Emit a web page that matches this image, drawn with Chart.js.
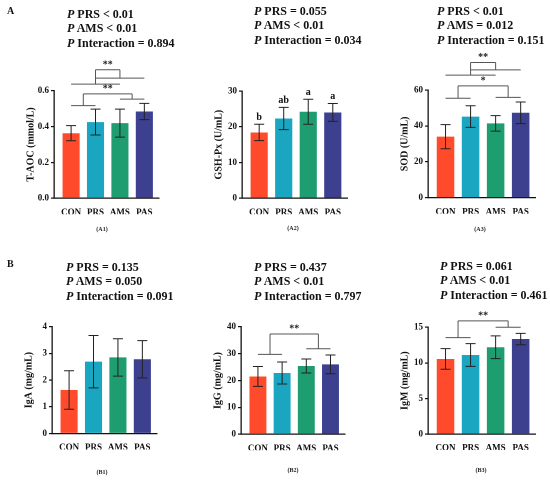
<!DOCTYPE html>
<html>
<head>
<meta charset="utf-8">
<script src="https://cdn.jsdelivr.net/npm/chart.js@4.4.1/dist/chart.umd.min.js"></script>
<style>
  body { margin: 0; width: 550px; height: 480px; background: #fff; position: relative; overflow: hidden; }
  canvas { position: absolute; }
  .pv { position: absolute; font: bold 12px "Liberation Serif", serif; line-height: 14.4px; color: #111; white-space: nowrap; }
  .pv i { font-style: italic; }
  .tag { position: absolute; font: bold 10px "Liberation Serif", serif; color: #111; }
  .cap { position: absolute; font: bold 6px "Liberation Serif", serif; color: #222; transform: translateX(-50%); }
</style>
</head>
<body>
<script>
const categories = ['CON', 'PRS', 'AMS', 'PAS'];
const barColors = ['#FF4B2B', '#1AA5C0', '#1E9E70', '#3D3F8F'];

// A1 T-AOC
const tAocMean = [0.363, 0.425, 0.419, 0.484];
const tAocSd = [0.042, 0.072, 0.078, 0.045];
const tAocBrackets = [
  { groups: [[1, 2], [3, 4]], levels: [0.517, 0.553], top: 0.582, mark: '**' },
  { groups: [[1, 3], [2, 4]], levels: [0.637, 0.670], top: 0.717, mark: '**' }
];
// A2 GSH-Px
const gshMean = [18.4, 22.3, 24.2, 24.0];
const gshSd = [2.3, 3.1, 3.5, 2.5];
const gshLetters = ['b', 'ab', 'a', 'a'];
// A3 SOD
const sodMean = [34.0, 45.2, 41.4, 47.3];
const sodSd = [6.7, 6.0, 4.3, 6.0];
const sodBrackets = [
  { groups: [[1, 2], [3, 4]], levels: [55.4, 55.9], top: 62.3, mark: '*' },
  { groups: [[1, 3], [2, 4]], levels: [68.3, 71.2], top: 75.3, mark: '**' }
];
// B1 IgA
const igaMean = [1.63, 2.69, 2.85, 2.78];
const igaSd = [0.72, 0.98, 0.70, 0.70];
// B2 IgG
const iggMean = [21.5, 22.8, 25.4, 26.0];
const iggSd = [3.7, 4.1, 2.6, 3.5];
const iggBrackets = [{ groups: [[1, 2], [3, 4]], levels: [29.7, 31.8], top: 37.3, mark: '**' }];
// B3 IgM
const igmMean = [10.55, 11.1, 12.2, 13.35];
const igmSd = [1.45, 1.6, 1.6, 0.8];
const igmBrackets = [{ groups: [[1, 2], [3, 4]], levels: [13.55, 15.0], top: 15.9, mark: '**' }];

// p-value captions
const pTexts = [
  ['PRS < 0.01', 'AMS < 0.01', 'Interaction = 0.894'],
  ['PRS = 0.055', 'AMS < 0.01', 'Interaction = 0.034'],
  ['PRS < 0.01', 'AMS = 0.012', 'Interaction = 0.151'],
  ['PRS = 0.135', 'AMS = 0.050', 'Interaction = 0.091'],
  ['PRS = 0.437', 'AMS < 0.01', 'Interaction = 0.797'],
  ['PRS = 0.061', 'AMS < 0.01', 'Interaction = 0.461']
];

const panels = [
  { cap: '(A1)', title: 'T-AOC (mmol/L)', mean: tAocMean, sd: tAocSd, max: 0.6, step: 0.2, dec: 1, brackets: tAocBrackets,
    axisX: 54, topY: 90.7, botY: 198.3, rightX: 159, rowTop: 0, pv: [67, 7], capXY: [102, 226] },
  { cap: '(A2)', title: 'GSH-Px (U/mL)', mean: gshMean, sd: gshSd, max: 30, step: 10, dec: 0, letters: gshLetters,
    axisX: 241.5, topY: 91, botY: 198.2, rightX: 347, rowTop: 0, pv: [254, 4], capXY: [293, 225] },
  { cap: '(A3)', title: 'SOD (U/mL)', mean: sodMean, sd: sodSd, max: 60, step: 20, dec: 0, brackets: sodBrackets,
    axisX: 428.3, topY: 90, botY: 197.7, rightX: 536, rowTop: 0, pv: [437, 4], capXY: [480, 226] },
  { cap: '(B1)', title: 'IgA (mg/mL)', mean: igaMean, sd: igaSd, max: 4, step: 1, dec: 0,
    axisX: 52, topY: 326.7, botY: 433.5, rightX: 157, rowTop: 240, pv: [66, 260], capXY: [102, 469] },
  { cap: '(B2)', title: 'IgG (mg/mL)', mean: iggMean, sd: iggSd, max: 40, step: 10, dec: 0, brackets: iggBrackets,
    axisX: 241, topY: 326.7, botY: 434.3, rightX: 345, rowTop: 240, pv: [254, 260], capXY: [293, 467] },
  { cap: '(B3)', title: 'IgM (mg/mL)', mean: igmMean, sd: igmSd, max: 15, step: 5, dec: 0, brackets: igmBrackets,
    axisX: 428.3, topY: 327.3, botY: 434, rightX: 536, rowTop: 240, pv: [440, 259], capXY: [481, 467] }
];

const serif = '"Liberation Serif", serif';

const extras = {
  id: 'extras',
  afterDatasetsDraw(chart, args, opts) {
    const ctx = chart.ctx;
    const xs = chart.scales.x, ys = chart.scales.y;
    ctx.save();
    // error bars
    ctx.strokeStyle = '#222';
    ctx.lineWidth = 1;
    opts.mean.forEach((m, i) => {
      const x = xs.getPixelForValue(i + 1);
      const yt = ys.getPixelForValue(m + opts.sd[i]);
      const yb = ys.getPixelForValue(m - opts.sd[i]);
      ctx.beginPath();
      ctx.moveTo(x, yt); ctx.lineTo(x, yb);
      ctx.moveTo(x - 5, yt); ctx.lineTo(x + 5, yt);
      ctx.moveTo(x - 5, yb); ctx.lineTo(x + 5, yb);
      ctx.stroke();
    });
    // significance letters
    if (opts.letters) {
      ctx.fillStyle = '#111';
      ctx.font = 'bold 10px ' + serif;
      ctx.textAlign = 'center';
      ctx.textBaseline = 'middle';
      opts.letters.forEach((t, i) => {
        ctx.fillText(t, xs.getPixelForValue(i + 1), ys.getPixelForValue(opts.mean[i] + opts.sd[i]) - 7);
      });
    }
    // group brackets
    (opts.brackets || []).forEach(b => {
      ctx.strokeStyle = '#555';
      ctx.lineWidth = 1;
      const mids = [];
      const yTop = ys.getPixelForValue(b.top);
      b.groups.forEach((g, k) => {
        const y = ys.getPixelForValue(b.levels[k]);
        const x1 = xs.getPixelForValue(g[0]), x2 = xs.getPixelForValue(g[1]);
        const xm = (x1 + x2) / 2;
        mids.push(xm);
        ctx.beginPath();
        ctx.moveTo(x1, y); ctx.lineTo(x2, y);
        ctx.moveTo(xm, y); ctx.lineTo(xm, yTop);
        ctx.stroke();
      });
      ctx.beginPath();
      ctx.moveTo(mids[0], yTop); ctx.lineTo(mids[1], yTop);
      ctx.stroke();
      ctx.fillStyle = '#222';
      ctx.font = 'bold 10px ' + serif;
      ctx.textAlign = 'center';
      ctx.textBaseline = 'middle';
      ctx.fillText(b.mark, (mids[0] + mids[1]) / 2, yTop - 5);
    });
    ctx.restore();
  }
};

const W = 185, H = 240, LEFT = 45, YW = 32, XH = 16;

panels.forEach((p, idx) => {
  const cv = document.createElement('canvas');
  const cl = p.axisX - LEFT;
  cv.width = W; cv.height = H;
  cv.style.left = cl + 'px';
  cv.style.top = p.rowTop + 'px';
  cv.style.width = W + 'px'; cv.style.height = H + 'px';
  document.body.appendChild(cv);

  const areaTop = p.topY - p.rowTop;
  const areaBot = p.botY - p.rowTop;

  new Chart(cv, {
    type: 'bar',
    data: {
      datasets: [{
        data: p.mean.map((v, i) => ({ x: i + 1, y: v })),
        backgroundColor: barColors,
        borderWidth: 0,
        barPercentage: 0.7,
        categoryPercentage: 1
      }]
    },
    options: {
      responsive: false,
      animation: false,
      devicePixelRatio: 2,
      layout: { padding: { left: LEFT - YW, top: areaTop, right: W - (p.rightX - cl), bottom: H - areaBot - XH } },
      plugins: {
        legend: { display: false },
        tooltip: { enabled: false },
        extras: { mean: p.mean, sd: p.sd, brackets: p.brackets, letters: p.letters }
      },
      scales: {
        x: {
          type: 'linear', min: 0.3, max: 4.6, offset: false,
          afterBuildTicks: s => { s.ticks = categories.map((c, i) => ({ value: i + 1 })); },
          afterFit: s => { s.height = XH; },
          grid: { display: false },
          border: { display: true, color: '#111', width: 1.3 },
          ticks: { autoSkip: false, maxRotation: 0, padding: 1, color: '#111',
                   font: { family: serif, weight: 'bold', size: 9 },
                   callback: v => categories[v - 1] }
        },
        y: {
          min: 0, max: p.max,
          afterFit: s => { s.width = YW; },
          grid: { display: true, drawOnChartArea: false, drawTicks: true, tickLength: 3, color: '#111', lineWidth: 1.2 },
          border: { display: true, color: '#111', width: 1.3 },
          ticks: { stepSize: p.step, padding: 2, color: '#111',
                   font: { family: serif, weight: 'bold', size: 9 },
                   callback: v => v.toFixed(p.dec) },
          title: { display: true, text: p.title, color: '#111', padding: { top: 3, bottom: 2 },
                   font: { family: serif, weight: 'bold', size: 10 } }
        }
      }
    },
    plugins: [extras]
  });

  const pv = document.createElement('div');
  pv.className = 'pv';
  pv.style.left = p.pv[0] + 'px';
  pv.style.top = p.pv[1] + 'px';
  pv.innerHTML = pTexts[idx].map(t => '<i>P</i> ' + t.replace('<', '&lt;')).join('<br>');
  document.body.appendChild(pv);

  const cap = document.createElement('div');
  cap.className = 'cap';
  cap.style.left = p.capXY[0] + 'px';
  cap.style.top = p.capXY[1] + 'px';
  cap.textContent = p.cap;
  document.body.appendChild(cap);
});

[['A', 7, 5], ['B', 7, 258]].forEach(([t, x, y]) => {
  const d = document.createElement('div');
  d.className = 'tag';
  d.style.left = x + 'px';
  d.style.top = y + 'px';
  d.textContent = t;
  document.body.appendChild(d);
});
</script>
</body>
</html>
